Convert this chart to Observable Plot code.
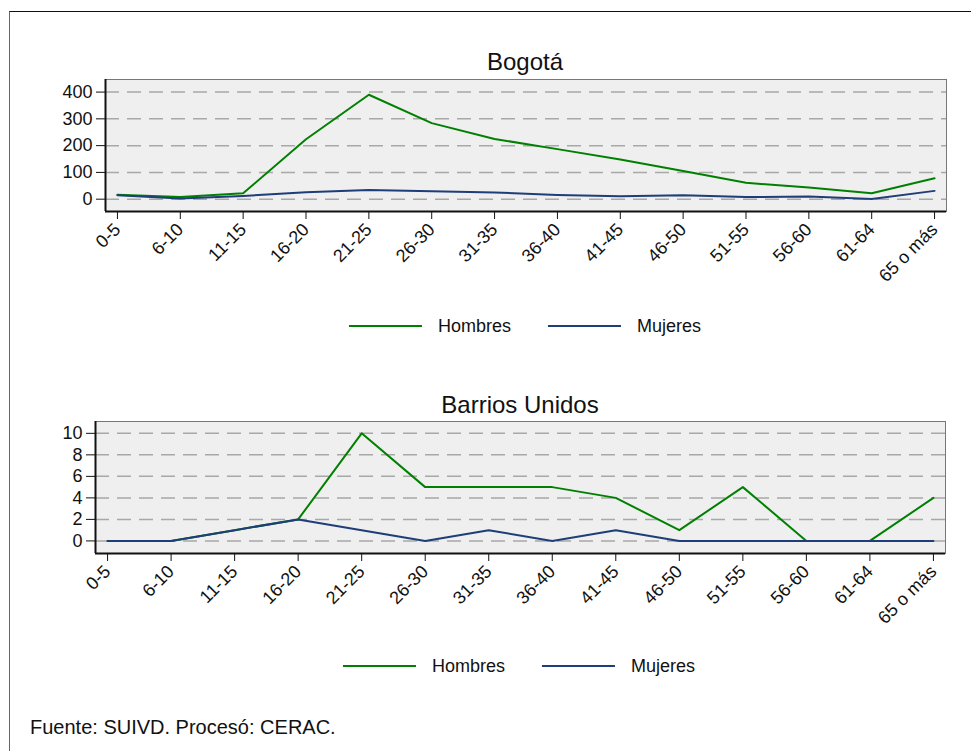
<!DOCTYPE html>
<html><head><meta charset="utf-8">
<script src="https://cdn.jsdelivr.net/npm/d3@7"></script>
<script src="https://cdn.jsdelivr.net/npm/@observablehq/plot@0.6"></script>
<style>
body{margin:0;background:#fff;font-family:"Liberation Sans",Arial,sans-serif;}
#wrap{position:relative;width:971px;height:751px;overflow:hidden;}
.border{position:absolute;left:9px;top:11px;width:980px;height:760px;border-top:1px solid #111;border-left:1px solid #666;}
.title{position:absolute;font-size:24px;line-height:24px;color:#111;white-space:nowrap;transform:translateX(-50%);}
.legend{position:absolute;display:flex;align-items:center;font-size:18px;line-height:20px;transform:translateX(-50%);white-space:nowrap;color:#111}
.legend .sw{width:73px;height:0;border-top:2px solid;margin-right:16px}
.legend .item{display:flex;align-items:center}
.legend .item + .item{margin-left:37px}
.plot{position:absolute;left:0}
.caption{position:absolute;left:30px;top:717px;font-size:20px;line-height:20px;color:#111;white-space:nowrap}
</style>
</head><body>
<div id="wrap">
  <div class="border"></div>
  <div class="plot" id="p1" style="top:0px"></div>
  <div class="plot" id="p2" style="top:342px"></div>
  <div class="title" id="t1" style="left:525px;top:50px"></div>
  <div class="title" id="t2" style="left:520px;top:393px"></div>
  <div class="legend" id="l1" style="left:525px;top:316px"></div>
  <div class="legend" id="l2" style="left:519px;top:656px"></div>
  <div class="caption" id="cap"></div>
</div>
<script>
const ageGroups = ["0-5","6-10","11-15","16-20","21-25","26-30","31-35","36-40","41-45","46-50","51-55","56-60","61-64","65 o más"];
const bogotaHombres = [17, 8, 22, 224, 390, 284, 225, 187, 148, 105, 61, 44, 22, 78];
const bogotaMujeres = [15, 3, 12, 26, 34, 30, 25, 16, 11, 15, 8, 10, 1, 31];
const barriosHombres = [0, 0, 1, 2, 10, 5, 5, 5, 4, 1, 5, 0, 0, 4];
const barriosMujeres = [0, 0, 1, 2, 1, 0, 1, 0, 1, 0, 0, 0, 0, 0];
const series = ["Hombres", "Mujeres"];
const seriesColors = ["#008000", "#1f3d78"];
const bogotaTicks = [0, 100, 200, 300, 400];
const barriosTicks = [0, 2, 4, 6, 8, 10];
const titles = ["Bogotá", "Barrios Unidos"];
const caption = "Fuente: SUIVD. Procesó: CERAC.";

function makeChart({hombres, mujeres, yTicks, yDomain, marginLeft, marginRight}) {
  const rows = [];
  ageGroups.forEach((g, i) => {
    rows.push({i, group: g, serie: series[0], value: hombres[i]});
    rows.push({i, group: g, serie: series[1], value: mujeres[i]});
  });
  const pad = 0.19;
  return Plot.plot({
    width: 971, height: 300, marginTop: 79, marginBottom: 89, marginLeft, marginRight,
    style: {background: "transparent", fontFamily: "Liberation Sans, Arial, sans-serif", fontSize: "18px", color: "#111", overflow: "visible"},
    x: {domain: [-pad, ageGroups.length - 1 + pad], ticks: d3.range(ageGroups.length), tickFormat: i => ageGroups[i], tickRotate: -45, tickSize: 8, tickPadding: 7, label: null},
    y: {domain: yDomain, ticks: yTicks, tickSize: 9, tickPadding: 4, label: null, tickFormat: d => String(d)},
    color: {domain: series, range: seriesColors},
    marks: [
      Plot.frame({fill: "#efefef", stroke: "#777", strokeWidth: 1}),
      Plot.ruleY(yTicks, {stroke: "#a8a8a8", strokeWidth: 1.5, strokeDasharray: "14,8"}),
      Plot.ruleY([yDomain[0]], {stroke: "#111", strokeWidth: 2}),
      Plot.ruleX([-pad], {stroke: "#111", strokeWidth: 2}),
      Plot.line(rows, {x: "i", y: "value", z: "serie", stroke: "serie", strokeWidth: 2})
    ]
  });
}

function makeLegend(el) {
  series.forEach((s, k) => {
    const item = document.createElement("div");
    item.className = "item";
    const sw = document.createElement("div");
    sw.className = "sw";
    sw.style.borderTopColor = seriesColors[k];
    const t = document.createElement("span");
    t.textContent = s;
    item.appendChild(sw); item.appendChild(t);
    el.appendChild(item);
  });
}

document.getElementById("p1").appendChild(makeChart({hombres: bogotaHombres, mujeres: bogotaMujeres, yTicks: bogotaTicks, yDomain: [-46, 447], marginLeft: 105, marginRight: 25}));
document.getElementById("p2").appendChild(makeChart({hombres: barriosHombres, mujeres: barriosMujeres, yTicks: barriosTicks, yDomain: [-1.17, 11.1], marginLeft: 95, marginRight: 26}));
document.getElementById("t1").textContent = titles[0];
document.getElementById("t2").textContent = titles[1];
makeLegend(document.getElementById("l1"));
makeLegend(document.getElementById("l2"));
document.getElementById("cap").textContent = caption;
</script>
</body></html>
